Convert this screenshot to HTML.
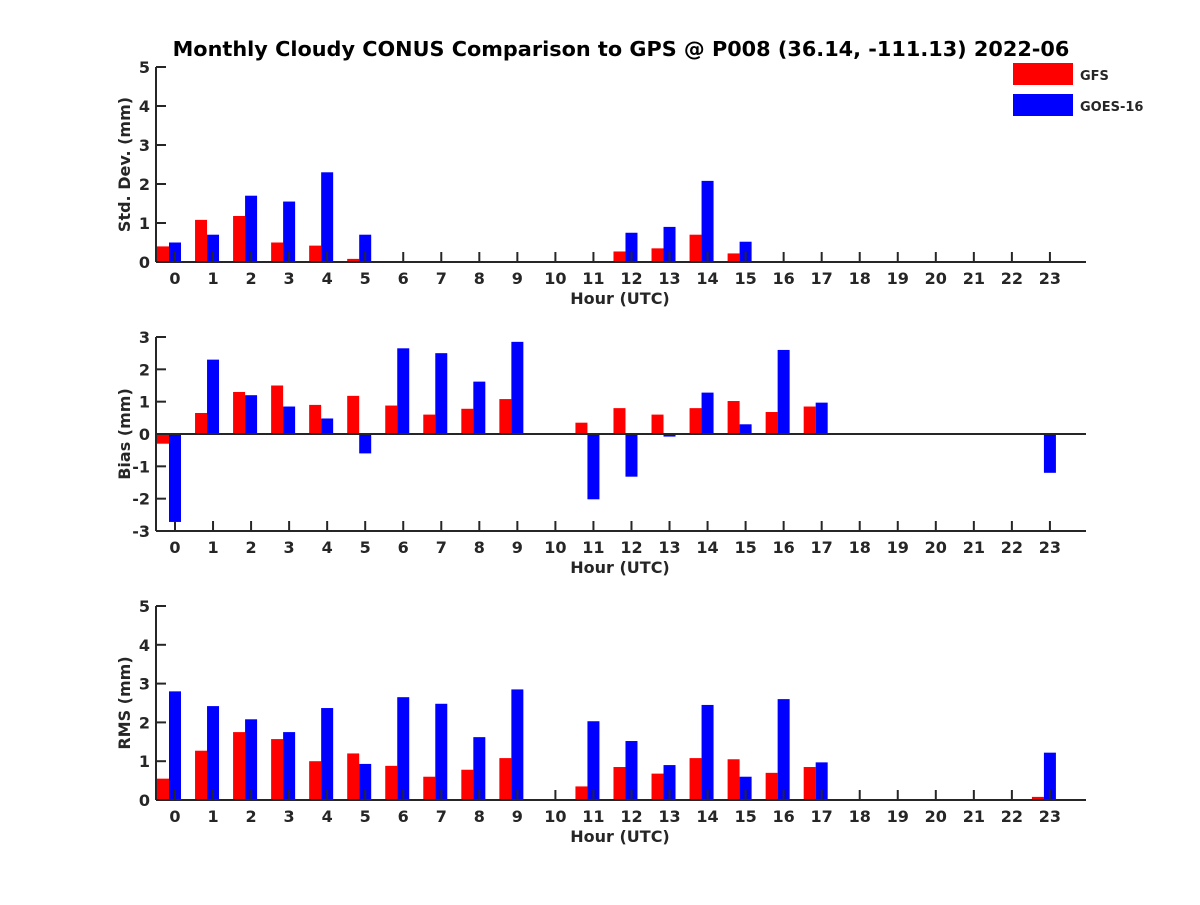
<!DOCTYPE html>
<html><head><meta charset="utf-8"><style>
body{margin:0;background:#fff}
svg text{font-family:"DejaVu Sans","Liberation Sans",sans-serif;font-weight:bold;fill:#262626}
</style></head><body>
<svg id="c" width="1200" height="900" xmlns="http://www.w3.org/2000/svg">
<rect width="1200" height="900" fill="#fff"/>
<text x="621" y="56" font-size="20.8" text-anchor="middle" style="fill:#000">Monthly Cloudy CONUS Comparison to GPS @ P008 (36.14, -111.13) 2022-06</text>
<g>
<rect x="1013" y="63" width="60" height="22" fill="#f00"/>
<text x="1080" y="80" font-size="13">GFS</text>
<rect x="1013" y="94" width="60" height="22" fill="#00f"/>
<text x="1080" y="111" font-size="13">GOES-16</text>
</g>
</svg>
<script>
const hours=[...Array(24).keys()];
const sdGFS=[0.4,1.08,1.18,0.5,0.42,0.08,0,0,0,0,0,0,0.27,0.35,0.7,0.22,0,0,0,0,0,0,0,0];
const sdGOES=[0.5,0.7,1.7,1.55,2.3,0.7,0,0,0,0,0,0,0.75,0.9,2.08,0.52,0,0,0,0,0,0,0,0];
const biasGFS=[-0.3,0.65,1.3,1.5,0.9,1.18,0.88,0.6,0.78,1.08,0,0.35,0.8,0.6,0.8,1.02,0.68,0.85,0,0,0,0,0,-0.03];
const biasGOES=[-2.72,2.3,1.2,0.85,0.48,-0.6,2.65,2.5,1.62,2.85,0,-2.02,-1.32,-0.08,1.28,0.3,2.6,0.97,0,0,0,0,0,-1.2];
const rmsGFS=[0.55,1.27,1.75,1.57,1.0,1.2,0.88,0.6,0.78,1.08,0,0.35,0.85,0.68,1.08,1.05,0.7,0.85,0,0,0,0,0,0.08];
const rmsGOES=[2.8,2.42,2.08,1.75,2.37,0.93,2.65,2.48,1.62,2.85,0,2.03,1.52,0.9,2.45,0.6,2.6,0.97,0,0,0,0,0,1.22];
const sdTicks=[0,1,2,3,4,5], biasTicks=[-3,-2,-1,0,1,2,3], rmsTicks=[0,1,2,3,4,5];
const svg=document.getElementById('c');
const NS='http://www.w3.org/2000/svg';
function el(t,a,p){const e=document.createElementNS(NS,t);for(const k in a)e.setAttribute(k,a[k]);(p||svg).appendChild(e);return e;}
const X0=156,X1=1086;
const xs=h=>175+h*38.04;
function panel(name,top,bot,ymin,ymax,ticks,gfs,goes,ylabel){
  const g=el('g',{});
  
  
  const ys=v=>bot-(v-ymin)/(ymax-ymin)*(bot-top);
  hours.forEach(h=>{
    [[gfs,'#f00',-12,'gfs'],[goes,'#00f',0,'goes16']].forEach(([arr,c,off,s])=>{
      const v=arr[h]; if(!v)return;
      const y0=ys(0),y1=ys(v);
      const r=el('rect',{x:xs(h)+off-6,y:Math.min(y0,y1),width:12,height:Math.abs(y1-y0),fill:c},g);
      
      
    });
  });
  el('line',{x1:X0,y1:bot,x2:X1,y2:bot,stroke:'#262626','stroke-width':2},g);
  el('line',{x1:X0,y1:top,x2:X0,y2:bot,stroke:'#262626','stroke-width':2},g);
  if(ymin<0) el('line',{x1:X0,y1:ys(0),x2:X1,y2:ys(0),stroke:'#262626','stroke-width':2},g);
  ticks.forEach(t=>{
    const y=ys(t);
    el('line',{x1:X0,y1:y,x2:X0+10,y2:y,stroke:'#262626','stroke-width':2},g);
    const tx=el('text',{x:X0-6,y:y+6,'font-size':16,'text-anchor':'end'},g);tx.textContent=t;
    
    
  });
  hours.forEach(h=>{
    el('line',{x1:xs(h),y1:bot,x2:xs(h),y2:bot-10,stroke:'#262626','stroke-width':2},g);
    const tx=el('text',{x:xs(h),y:bot+22,'font-size':16,'text-anchor':'middle'},g);tx.textContent=h;
    
    
  });
  const xl=el('text',{x:620,y:bot+42,'font-size':16,'text-anchor':'middle'},g);xl.textContent='Hour (UTC)';
  
  
  const cy=(top+bot)/2;
  const yl=el('text',{x:130,y:cy,'font-size':16,'text-anchor':'middle',transform:`rotate(-90 130 ${cy})`},g);yl.textContent=ylabel;
  
  
}
panel('std-dev',67,262,0,5,sdTicks,sdGFS,sdGOES,'Std. Dev. (mm)');
panel('bias',337,531,-3,3,biasTicks,biasGFS,biasGOES,'Bias (mm)');
panel('rms',606,800,0,5,rmsTicks,rmsGFS,rmsGOES,'RMS (mm)');
</script>
</body></html>
